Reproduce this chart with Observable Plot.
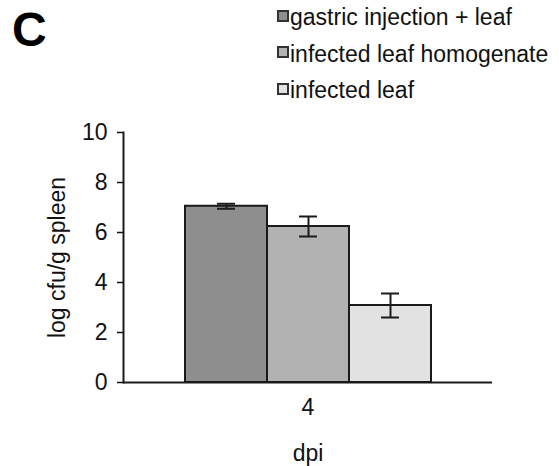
<!DOCTYPE html>
<html>
<head>
<meta charset="utf-8">
<script src="https://cdn.jsdelivr.net/npm/d3@7"></script>
<script src="https://cdn.jsdelivr.net/npm/@observablehq/plot@0.6"></script>
<style>
  body { margin: 0; background: #fff; font-family: "Liberation Sans", Arial, sans-serif; }
  #wrap { position: relative; width: 559px; height: 466px; overflow: hidden; }
  #panel { position: absolute; left: 12px; top: 4px; font-size: 48px; font-weight: bold; line-height: 52px; color: #000; }
  #legend { position: absolute; left: 277px; top: 0px; font-size: 23px; color: #111; }
  .item { position: absolute; left: 0; white-space: nowrap; height: 26px; line-height: 26px; }
  .sw { display: inline-block; width: 8px; height: 8px; border: 2px solid #333; vertical-align: middle; margin-right: 1px; position: relative; top: -3px; }
  #chart { position: absolute; left: 0; top: 0; }
</style>
</head>
<body>
<div id="wrap">
  <div id="chart"></div>
  <div id="panel">C</div>
  <div id="legend"></div>
</div>
<script>
const groups = ["gastric injection + leaf", "infected leaf homogenate", "infected leaf"];
const means = [7.05, 6.24, 3.08];
const errors = [0.1, 0.4, 0.48];
const colors = ["#8e8e8e", "#b2b2b2", "#e2e2e2"];
const dpi = ["4"];
const yTicks = [0, 2, 4, 6, 8, 10];

const data = groups.map((g, i) => ({
  dpi: dpi[0], group: g, value: means[i],
  lo: means[i] - errors[i], hi: means[i] + errors[i]
}));

const chart = Plot.plot({
  width: 559,
  height: 466,
  marginTop: 132,
  marginLeft: 123,
  marginRight: 67,
  marginBottom: 84,
  style: { fontFamily: "Liberation Sans, Arial, sans-serif", fontSize: "23px", color: "#111", background: "transparent" },
  fx: { domain: dpi, padding: 0 },
  x: { domain: groups, paddingInner: 0, paddingOuter: 0.74, axis: null },
  y: { domain: [0, 10] },
  color: { domain: groups, range: colors },
  marks: [
    Plot.barY(data, { fx: "dpi", x: "group", y: "value", fill: "group", stroke: "#1a1a1a", strokeWidth: 2 }),
    Plot.ruleX(data, { fx: "dpi", x: "group", y1: "lo", y2: "hi", stroke: "#1a1a1a", strokeWidth: 2 }),
    Plot.tickY(data, { fx: "dpi", x: "group", y: "lo", stroke: "#1a1a1a", strokeWidth: 2, insetLeft: 32, insetRight: 32 }),
    Plot.tickY(data, { fx: "dpi", x: "group", y: "hi", stroke: "#1a1a1a", strokeWidth: 2, insetLeft: 32, insetRight: 32 }),
    Plot.ruleY([0], { stroke: "#1a1a1a", strokeWidth: 2 }),
    Plot.frame({ anchor: "left", stroke: "#1a1a1a", strokeWidth: 2 }),
    Plot.axisY({ ticks: yTicks, tickSize: 6, tickPadding: 10, tickFormat: d3.format("d"), strokeWidth: 1.5,
      label: "log cfu/g spleen", labelAnchor: "center", labelArrow: "none", labelOffset: 75 }),
    Plot.axisFx({ anchor: "bottom", tickSize: 0, tickPadding: 16, label: "dpi", labelAnchor: "center", labelArrow: "none", labelOffset: 78 })
  ]
});
document.getElementById("chart").appendChild(chart);

const legend = document.getElementById("legend");
groups.forEach((g, i) => {
  const item = document.createElement("div");
  item.className = "item";
  item.style.top = (4 + i * 36.5) + "px";
  const sw = document.createElement("span");
  sw.className = "sw";
  sw.style.background = colors[i];
  item.appendChild(sw);
  item.appendChild(document.createTextNode(g));
  legend.appendChild(item);
});
</script>
</body>
</html>
